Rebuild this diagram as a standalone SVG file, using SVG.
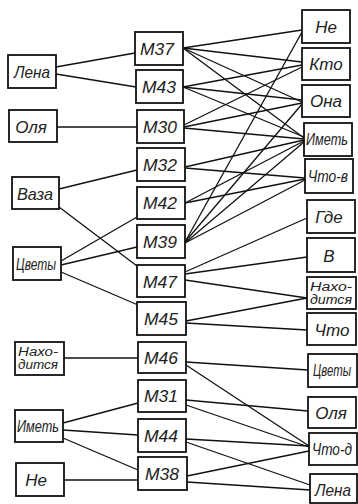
<svg xmlns="http://www.w3.org/2000/svg" width="358" height="504" viewBox="0 0 358 504">
<style>
rect{fill:#fff;stroke:#111;stroke-width:1.8}
text{font-family:"Liberation Sans","DejaVu Sans",sans-serif;font-style:italic;font-size:17px;fill:#222;text-anchor:middle}
text.s{font-size:12px}
text.w{font-size:16px}
#connectors line{stroke:#111;stroke-width:1.3}
</style>
<rect x="0" y="0" width="358" height="504" style="fill:#fff;stroke:none"/>
<g id="connectors">
<line x1="56" y1="67" x2="135" y2="53"/>
<line x1="56" y1="74" x2="136" y2="87"/>
<line x1="57" y1="127" x2="137" y2="127"/>
<line x1="59" y1="189" x2="137" y2="170"/>
<line x1="59" y1="207" x2="137" y2="266"/>
<line x1="61" y1="261" x2="137" y2="217"/>
<line x1="61" y1="265" x2="137" y2="247"/>
<line x1="61" y1="272" x2="138" y2="305"/>
<line x1="64" y1="358" x2="138" y2="358"/>
<line x1="63" y1="423" x2="138" y2="403"/>
<line x1="63" y1="430" x2="138" y2="435"/>
<line x1="63" y1="438" x2="138" y2="470"/>
<line x1="64" y1="480" x2="138" y2="480"/>
<line x1="183" y1="48" x2="302" y2="30"/>
<line x1="183" y1="48" x2="302" y2="62"/>
<line x1="183" y1="48" x2="302" y2="102"/>
<line x1="183" y1="48" x2="304" y2="138"/>
<line x1="183" y1="87" x2="302" y2="65"/>
<line x1="183" y1="87" x2="302" y2="100"/>
<line x1="183" y1="87" x2="304" y2="137"/>
<line x1="184" y1="125" x2="302" y2="67"/>
<line x1="184" y1="127" x2="302" y2="103"/>
<line x1="184" y1="128" x2="304" y2="139"/>
<line x1="185" y1="167" x2="304" y2="140"/>
<line x1="185" y1="168" x2="305" y2="178"/>
<line x1="185" y1="203" x2="304" y2="141"/>
<line x1="185" y1="203" x2="305" y2="179"/>
<line x1="185" y1="242" x2="302" y2="32"/>
<line x1="185" y1="242" x2="302" y2="104"/>
<line x1="185" y1="243" x2="304" y2="142"/>
<line x1="185" y1="243" x2="305" y2="180"/>
<line x1="185" y1="272" x2="307" y2="218"/>
<line x1="185" y1="274" x2="307" y2="257"/>
<line x1="185" y1="280" x2="307" y2="298"/>
<line x1="186" y1="321" x2="307" y2="298"/>
<line x1="186" y1="323" x2="307" y2="330"/>
<line x1="186" y1="362" x2="308" y2="370"/>
<line x1="186" y1="365" x2="309" y2="446"/>
<line x1="186" y1="400" x2="308" y2="411"/>
<line x1="186" y1="405" x2="309" y2="447"/>
<line x1="186" y1="439" x2="309" y2="446"/>
<line x1="186" y1="442" x2="310" y2="485"/>
<line x1="187" y1="476" x2="309" y2="451"/>
<line x1="187" y1="482" x2="310" y2="490"/>
</g>
<g id="l-lena"><rect x="8" y="55" width="48" height="33"/><text x="32" y="78" textLength="36" lengthAdjust="spacingAndGlyphs">Лена</text></g>
<g id="l-olya"><rect x="9" y="110" width="48" height="32"/><text x="31" y="133">Оля</text></g>
<g id="l-vaza"><rect x="12" y="177" width="47" height="32"/><text x="35" y="200" textLength="36" lengthAdjust="spacingAndGlyphs">Ваза</text></g>
<g id="l-tsvety"><rect x="13" y="247" width="48" height="33"/><text class="w" x="36" y="270" textLength="40" lengthAdjust="spacingAndGlyphs">Цветы</text></g>
<g id="l-nakh"><rect x="15" y="342" width="49" height="33"/><text class="s" x="38" y="356" textLength="40" lengthAdjust="spacingAndGlyphs">Нахо-</text><text class="s" x="38" y="369" textLength="40" lengthAdjust="spacingAndGlyphs">дится</text></g>
<g id="l-imet"><rect x="15" y="410" width="48" height="32"/><text class="w" x="38" y="432" textLength="42" lengthAdjust="spacingAndGlyphs">Иметь</text></g>
<g id="l-ne"><rect x="16" y="463" width="48" height="33"/><text x="36" y="486">Не</text></g>
<g id="m37"><rect x="135" y="32" width="48" height="33"/><text x="157" y="55" textLength="34" lengthAdjust="spacingAndGlyphs">М37</text></g>
<g id="m43"><rect x="136" y="70" width="47" height="33"/><text x="159" y="93" textLength="34" lengthAdjust="spacingAndGlyphs">М43</text></g>
<g id="m30"><rect x="137" y="110" width="47" height="33"/><text x="160" y="133" textLength="34" lengthAdjust="spacingAndGlyphs">М30</text></g>
<g id="m32"><rect x="137" y="148" width="48" height="33"/><text x="160" y="171" textLength="34" lengthAdjust="spacingAndGlyphs">М32</text></g>
<g id="m42"><rect x="137" y="187" width="48" height="32"/><text x="160" y="209" textLength="34" lengthAdjust="spacingAndGlyphs">М42</text></g>
<g id="m39"><rect x="137" y="225" width="48" height="33"/><text x="160" y="248" textLength="34" lengthAdjust="spacingAndGlyphs">М39</text></g>
<g id="m47"><rect x="137" y="265" width="48" height="32"/><text x="160" y="288" textLength="34" lengthAdjust="spacingAndGlyphs">М47</text></g>
<g id="m45"><rect x="137" y="302" width="49" height="33"/><text x="161" y="325" textLength="34" lengthAdjust="spacingAndGlyphs">М45</text></g>
<g id="m46"><rect x="138" y="342" width="48" height="31"/><text x="161" y="364" textLength="34" lengthAdjust="spacingAndGlyphs">М46</text></g>
<g id="m31"><rect x="138" y="380" width="48" height="32"/><text x="161" y="402" textLength="34" lengthAdjust="spacingAndGlyphs">М31</text></g>
<g id="m44"><rect x="138" y="419" width="48" height="33"/><text x="161" y="442" textLength="34" lengthAdjust="spacingAndGlyphs">М44</text></g>
<g id="m38"><rect x="138" y="457" width="49" height="33"/><text x="162" y="480" textLength="34" lengthAdjust="spacingAndGlyphs">М38</text></g>
<g id="r-ne"><rect x="302" y="10" width="48" height="33"/><text x="326" y="33">Не</text></g>
<g id="r-kto"><rect x="302" y="48" width="48" height="32"/><text x="326" y="70">Кто</text></g>
<g id="r-ona"><rect x="302" y="85" width="48" height="32"/><text x="326" y="107">Она</text></g>
<g id="r-imet"><rect x="304" y="123" width="48" height="33"/><text class="w" x="327" y="145" textLength="42" lengthAdjust="spacingAndGlyphs">Иметь</text></g>
<g id="r-chtov"><rect x="305" y="159" width="48" height="34"/><text class="w" x="328" y="182" textLength="40" lengthAdjust="spacingAndGlyphs">Что-в</text></g>
<g id="r-gde"><rect x="307" y="200" width="48" height="33"/><text x="329" y="223">Где</text></g>
<g id="r-v"><rect x="307" y="238" width="48" height="34"/><text x="329" y="262">В</text></g>
<g id="r-nakh"><rect x="307" y="277" width="49" height="32"/><text class="s" x="331" y="291" textLength="42" lengthAdjust="spacingAndGlyphs">Нахо-</text><text class="s" x="331" y="304" textLength="42" lengthAdjust="spacingAndGlyphs">дится</text></g>
<g id="r-chto"><rect x="307" y="313" width="49" height="32"/><text x="332" y="336">Что</text></g>
<g id="r-tsvety"><rect x="308" y="354" width="49" height="33"/><text class="w" x="332" y="376" textLength="38" lengthAdjust="spacingAndGlyphs">Цветы</text></g>
<g id="r-olya"><rect x="308" y="397" width="48" height="31"/><text x="331" y="419">Оля</text></g>
<g id="r-chtod"><rect x="309" y="433" width="48" height="32"/><text class="w" x="332" y="455" textLength="40" lengthAdjust="spacingAndGlyphs">Что-д</text></g>
<g id="r-lena"><rect x="310" y="474" width="47" height="29"/><text x="333" y="496" textLength="36" lengthAdjust="spacingAndGlyphs">Лена</text></g>
</svg>
